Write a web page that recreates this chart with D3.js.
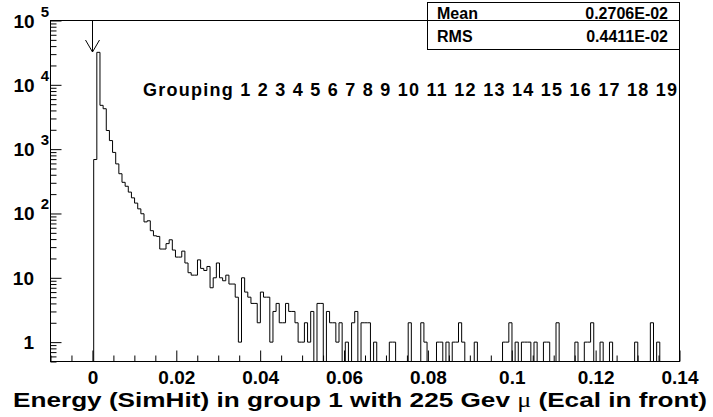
<!DOCTYPE html>
<html>
<head>
<meta charset="utf-8">
<script src="https://cdn.jsdelivr.net/npm/d3@7"></script>
<style>
  body { margin: 0; background: #fff; }
  text { font-family: "Liberation Sans", Arial, sans-serif; font-weight: bold; fill: #000; }
</style>
</head>
<body>
<svg id="chart"></svg>
<script>
// histogram: 0.00075 wide bins, first bin starts at 0.0003
const binLow = 0.0003;
const binWidth = 0.00075;
const counts = [
  690, 32000, 4800, 4250, 1950, 1360, 890, 590, 415, 305,
  265, 215, 175, 145, 118, 99, 74, 77, 54, 45,
  44, 28, 28, 34, 39, 27, 21, 21, 26, 17,
  12, 11, 11, 19, 14, 13, 15, 7, 10, 17,
  10, 9, 11, 8, 8, 5, 1, 10, 6, 5,
  4, 4, 2, 6, 5, 5, 1, 3, 4, 2,
  2, 4, 3, 3, 2, 1, 1, 2, 1, 3,
  0, 4, 4, 0, 3, 2, 2, 1, 2, 0,
  1, 0, 2, 3, 0, 2, 2, 2, 0, 1,
  0, 0, 0, 0, 1, 1, 0, 0, 0, 0,
  2, 0, 0, 0, 2, 1, 0, 0, 0, 1,
  1, 0, 1, 0, 1, 1, 2, 1, 0, 0,
  0, 1, 0, 0, 0, 0, 0, 0, 0, 0,
  1, 1, 2, 0, 1, 0, 1, 1, 1, 0,
  1, 0, 0, 1, 1, 0, 0, 2, 0, 0,
  0, 0, 0, 1, 0, 0, 1, 1, 2, 0,
  0, 1, 0, 0, 1, 0, 0, 0, 0, 0,
  0, 0, 1, 0, 0, 0, 0, 2, 0, 1,
  0, 0, 0, 0, 0, 0
];

const xTicks = [0, 0.02, 0.04, 0.06, 0.08, 0.1, 0.12, 0.14];
const xTickLabels = ["0", "0.02", "0.04", "0.06", "0.08", "0.1", "0.12", "0.14"];
const yTicks = [1, 10, 100, 1000, 10000, 100000];
const yTickBase = ["1", "10", "10", "10", "10", "10"];
const yTickExp = ["", "", "2", "3", "4", "5"];

const statNames = ["Mean", "RMS"];
const statValues = ["0.2706E-02", "0.4411E-02"];
const groupingText = "Grouping 1 2 3 4 5 6 7 8 9 10 11 12 13 14 15 16 17 18 19";
const cutValue = 0;

const width = 713, height = 417;
const frame = {left: 50.5, right: 679.5, top: 20.5, bottom: 361.5};

const svg = d3.select("#chart")
    .attr("width", width)
    .attr("height", height);

svg.append("rect").attr("width", width).attr("height", height).attr("fill", "#fff");

const x = d3.scaleLinear()
    .domain([-0.01, 0.14])
    .range([frame.left, frame.right]);

const y = d3.scaleLog()
    .domain([0.5, 1e5])
    .range([frame.bottom, frame.top]);

svg.append("clipPath").attr("id", "clip")
    .append("rect")
    .attr("x", frame.left).attr("y", frame.top)
    .attr("width", frame.right - frame.left).attr("height", frame.bottom - frame.top);

// stats box (frame line runs through it)
svg.append("rect")
    .attr("x", 427.5).attr("y", 2.5)
    .attr("width", frame.right - 427.5).attr("height", 47)
    .attr("fill", "#fff").attr("stroke", "#000");

statNames.forEach((s, i) => {
    svg.append("text").attr("x", 437).attr("y", 19 + i * 23)
        .style("font-size", "16px").text(s);
    svg.append("text").attr("x", 668).attr("y", 19 + i * 23)
        .attr("text-anchor", "end")
        .style("font-size", "16px").text(statValues[i]);
});

// histogram outline
let d = "M" + x(binLow) + "," + frame.bottom;
counts.forEach((c, i) => {
    const x0 = x(binLow + i * binWidth), x1 = x(binLow + (i + 1) * binWidth);
    const yy = c > 0 ? y(c) : frame.bottom;
    d += "L" + x0 + "," + yy + "L" + x1 + "," + yy;
});
d += "L" + x(binLow + counts.length * binWidth) + "," + frame.bottom;

svg.append("path")
    .attr("d", d)
    .attr("clip-path", "url(#clip)")
    .attr("fill", "none")
    .attr("stroke", "#000")
    .attr("stroke-width", 1);

// x axis, ticks drawn inward
const xMinor = d3.range(-2, 29).map(i => i * 0.005).filter((v, i) => (i + 2) % 4 !== 0);

svg.append("g")
    .attr("transform", "translate(0," + frame.bottom + ")")
    .call(d3.axisBottom(x).tickValues(xMinor).tickSize(-6).tickFormat(""))
    .call(g => g.select(".domain").remove());

const xAxis = svg.append("g")
    .attr("transform", "translate(0," + frame.bottom + ")")
    .call(d3.axisBottom(x).tickValues(xTicks).tickSize(-11).tickPadding(9)
        .tickFormat((v, i) => xTickLabels[i]));
xAxis.select(".domain").remove();
xAxis.selectAll("text")
    .style("font-size", "19px")
    .style("font-family", "Liberation Sans, Arial, sans-serif")
    .style("font-weight", "bold")
    .attr("fill", "#000");

// y axis, log
const yMinor = [];
[0.1, 1, 10, 100, 1000, 10000].forEach(dec => {
    for (let m = 2; m <= 9; m++) {
        const v = m * dec;
        if (v >= 0.5 && v <= 1e5) yMinor.push(v);
    }
});

svg.append("g")
    .attr("transform", "translate(" + frame.left + ",0)")
    .call(d3.axisLeft(y).tickValues(yMinor).tickSize(-6).tickFormat(""))
    .call(g => g.select(".domain").remove());

const yAxis = svg.append("g")
    .attr("transform", "translate(" + frame.left + ",0)")
    .call(d3.axisLeft(y).tickValues(yTicks).tickSize(-11).tickFormat(""));
yAxis.select(".domain").remove();

yTicks.forEach((v, i) => {
    const t = svg.append("text")
        .attr("y", y(v) + 7)
        .attr("text-anchor", "end")
        .style("font-size", "19px");
    if (yTickExp[i]) {
        t.attr("x", 49).text(yTickBase[i]);
        t.append("tspan")
            .attr("dx", 6)
            .attr("dy", -11)
            .style("font-size", "15px")
            .text(yTickExp[i]);
    } else {
        t.attr("x", 34).text(yTickBase[i]);
    }
});

// frame
svg.append("rect")
    .attr("x", frame.left).attr("y", frame.top)
    .attr("width", frame.right - frame.left).attr("height", frame.bottom - frame.top)
    .attr("fill", "none").attr("stroke", "#000");

// arrow at the cut
const ax = Math.round(x(cutValue)) + 0.5;
svg.append("path")
    .attr("d", "M" + ax + "," + frame.top + "V52M" + (ax - 7) + ",40L" + ax + ",52L" + (ax + 7) + ",40")
    .attr("fill", "none").attr("stroke", "#000");

svg.append("text")
    .attr("x", 143).attr("y", 96)
    .attr("textLength", 534).attr("lengthAdjust", "spacing")
    .style("font-size", "18px")
    .text(groupingText);

// x title
const title = svg.append("text")
    .attr("x", 13).attr("y", 407)
    .attr("textLength", 694).attr("lengthAdjust", "spacingAndGlyphs")
    .style("font-size", "21px");
title.append("tspan").text("Energy (SimHit) in group 1 with 225 Gev ");
title.append("tspan").style("font-family", "Liberation Serif, serif").style("font-weight", "normal").text("\u03bc");
title.append("tspan").text(" (Ecal in front)");
</script>
</body>
</html>
